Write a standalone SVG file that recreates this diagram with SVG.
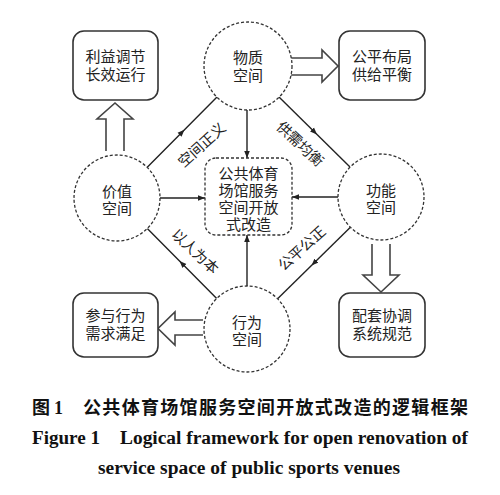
<svg xmlns="http://www.w3.org/2000/svg" width="500" height="495" viewBox="0 0 500 495">
<style>
.cir{fill:#fff;stroke:#333;stroke-width:1.3;stroke-dasharray:3 2}
.box{fill:#fff;stroke:#333;stroke-width:1.6}
.cbox{fill:#fff;stroke:#333;stroke-width:1.3;stroke-dasharray:3 2}
.blk{fill:#fff;stroke:#444;stroke-width:1.6;stroke-linejoin:miter}
.ln{fill:none;stroke:#222;stroke-width:1.4}
.t{font-family:"Liberation Sans","Noto Sans CJK SC",sans-serif;font-size:15px;fill:#222;text-anchor:middle}
.lb{font-family:"Liberation Sans","Noto Sans CJK SC",sans-serif;font-size:14.5px;fill:#222;text-anchor:middle}
.cap{font-family:"Noto Sans CJK SC",sans-serif;font-size:18px;font-weight:bold;fill:#111}
.en{font-family:"Liberation Serif","Times New Roman",serif;font-size:18px;font-weight:bold;fill:#111}
</style>
<defs>
<marker id="ah" viewBox="0 0 10 10" refX="10" refY="5" markerWidth="7" markerHeight="7" markerUnits="userSpaceOnUse" orient="auto">
<path d="M0,1 L10,5 L0,9 Z" fill="#222"/>
</marker>
<marker id="am" viewBox="0 0 10 10" refX="5" refY="5" markerWidth="7" markerHeight="7" markerUnits="userSpaceOnUse" orient="auto">
<path d="M0,1 L10,5 L0,9 Z" fill="#222"/>
</marker>
</defs>
<rect width="500" height="495" fill="#fff"/>

<g id="connectors">
<path class="ln" d="M247,110 L247,158" marker-end="url(#ah)"/>
<path class="ln" d="M160,198 L205,198" marker-end="url(#ah)"/>
<path class="ln" d="M338,197 L292,197" marker-end="url(#ah)"/>
<path class="ln" d="M247,286 L247,235" marker-end="url(#ah)"/>
<path class="ln" d="M147,167.5 L182,132.2 L217,97" marker-mid="url(#am)"/>
<path class="ln" d="M279,97 L314.5,132 L350,167" marker-mid="url(#am)"/>
<path class="ln" d="M350.4,227.2 L314,263 L277.6,298.8" marker-mid="url(#am)"/>
<path class="ln" d="M216.7,298.5 L182,263.5 L147.3,228.5" marker-mid="url(#am)"/>
<path class="blk" d="M106,151 L106,119 L97,119 L115,103 L133,119 L124,119 L124,151"/>
<path class="blk" d="M290,58 L322,58 L322,50 L338,66 L322,82 L322,75 L290,75"/>
<path class="blk" d="M372,244 L372,275 L363,275 L381,292 L399,275 L390,275 L390,244"/>
<path class="blk" d="M203,320 L175,320 L175,312 L158,328.5 L175,345 L175,335 L203,335"/>
</g>

<g id="label-justice"><text class="lb" transform="translate(202,145) rotate(-42)" dy="5">空间正义</text></g>
<g id="label-balance"><text class="lb" transform="translate(300,144) rotate(43)" dy="5">供需均衡</text></g>
<g id="label-people"><text class="lb" transform="translate(195,251.5) rotate(43)" dy="5">以人为本</text></g>
<g id="label-fair"><text class="lb" transform="translate(302,248.5) rotate(-42)" dy="5">公平公正</text></g>

<g id="node-material">
<circle class="cir" cx="248" cy="66" r="44"/>
<text class="t" x="248" y="62.5">物质<tspan x="248" dy="18.5">空间</tspan></text>
</g>
<g id="node-value">
<circle class="cir" cx="117" cy="198" r="43"/>
<text class="t" x="117" y="197">价值<tspan x="117" dy="17">空间</tspan></text>
</g>
<g id="node-function">
<circle class="cir" cx="381" cy="197" r="43"/>
<text class="t" x="381" y="195.5">功能<tspan x="381" dy="17">空间</tspan></text>
</g>
<g id="node-behavior">
<circle class="cir" cx="247" cy="329" r="43"/>
<text class="t" x="247" y="327.5">行为<tspan x="247" dy="17">空间</tspan></text>
</g>
<g id="node-center">
<rect class="cbox" x="205" y="158" width="87" height="77" rx="11"/>
<text class="t" x="248.5" y="178.5">公共体育<tspan x="248.5" dy="17">场馆服务</tspan><tspan x="248.5" dy="17">空间开放</tspan><tspan x="248.5" dy="17">式改造</tspan></text>
</g>
<g id="node-interest">
<rect class="box" x="73" y="31" width="85" height="69" rx="11"/>
<text class="t" x="115.5" y="62">利益调节<tspan x="115.5" dy="18">长效运行</tspan></text>
</g>
<g id="node-layout">
<rect class="box" x="339" y="31" width="86" height="69" rx="11"/>
<text class="t" x="382" y="62">公平布局<tspan x="382" dy="18">供给平衡</tspan></text>
</g>
<g id="node-participation">
<rect class="box" x="73" y="293" width="85" height="64" rx="11"/>
<text class="t" x="115.5" y="321">参与行为<tspan x="115.5" dy="18">需求满足</tspan></text>
</g>
<g id="node-support">
<rect class="box" x="339" y="293" width="86" height="64" rx="11"/>
<text class="t" x="382" y="321">配套协调<tspan x="382" dy="18">系统规范</tspan></text>
</g>

<g id="caption">
<text class="cap" x="32" y="414">图</text>
<text class="en" x="54" y="414">1</text>
<text class="cap" x="83" y="414" textLength="385" lengthAdjust="spacing">公共体育场馆服务空间开放式改造的逻辑框架</text>
<text class="en" x="32" y="444" textLength="68" lengthAdjust="spacingAndGlyphs">Figure 1</text>
<text class="en" x="120" y="444" textLength="348" lengthAdjust="spacingAndGlyphs">Logical framework for open renovation of</text>
<text class="en" x="98" y="474" textLength="302" lengthAdjust="spacingAndGlyphs">service space of public sports venues</text>
</g>
</svg>
